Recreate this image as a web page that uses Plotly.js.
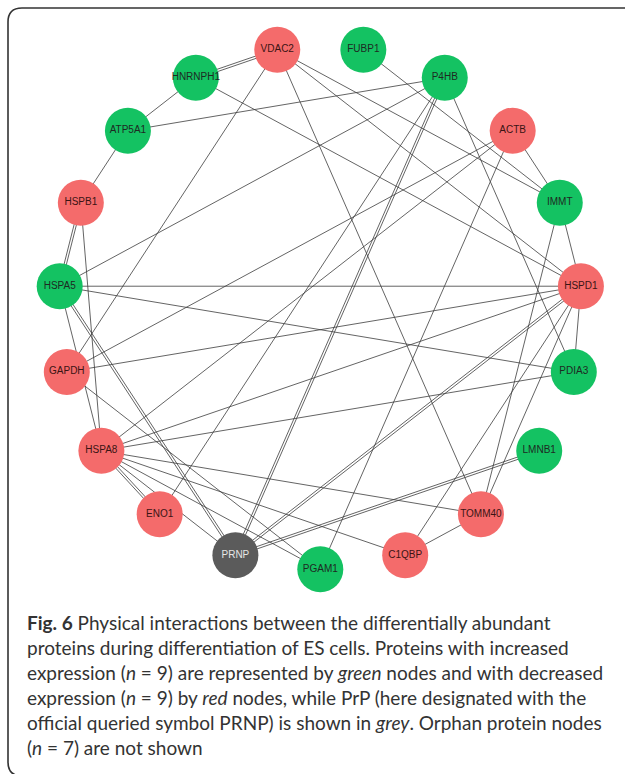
<!DOCTYPE html>
<html>
<head>
<meta charset="utf-8">
<script src="https://cdn.plot.ly/plotly-3.0.1.min.js"></script>
<style>
html,body{margin:0;padding:0;background:#fff;}
#chart{width:625px;height:774px;}
</style>
</head>
<body>
<div id="chart"></div>
<script>
// ---- data ----
// nodes in circular-layout order (starting at the bottom, counter-clockwise)
const nodeNames = ['PGAM1','C1QBP','TOMM40','LMNB1','PDIA3','HSPD1','IMMT','ACTB','P4HB','FUBP1',
                   'VDAC2','HNRNPH1','ATP5A1','HSPB1','HSPA5','GAPDH','HSPA8','ENO1','PRNP'];
const nodeRegulation = ['increased','decreased','decreased','increased','increased','decreased','increased','decreased','increased','increased',
                        'decreased','increased','increased','decreased','increased','decreased','decreased','decreased','query'];
// interactions (source, target, number of interaction records)
const edgeSource = ['HNRNPH1','HNRNPH1','ATP5A1','HNRNPH1','VDAC2','VDAC2','VDAC2','VDAC2','FUBP1','P4HB',
                    'P4HB','P4HB','P4HB','ACTB','ACTB','ACTB','ACTB','IMMT','IMMT','TOMM40',
                    'HSPA5','GAPDH','HSPA8','PRNP','PRNP','PRNP','GAPDH','HSPB1','HSPB1','ATP5A1',
                    'HSPA5','HSPA8','HSPD1','C1QBP','C1QBP','HSPA8','HSPA8','HSPA8','HSPA8','HSPA8','HSPA5'];
const edgeTarget = ['VDAC2','ATP5A1','P4HB','HSPD1','GAPDH','TOMM40','HSPD1','IMMT','IMMT','HSPA5',
                    'PRNP','ENO1','PDIA3','IMMT','GAPDH','HSPA8','PGAM1','TOMM40','HSPD1','HSPD1',
                    'HSPD1','HSPD1','HSPD1','HSPD1','LMNB1','HSPA5','PGAM1','HSPA8','HSPA5','HSPB1',
                    'PDIA3','PDIA3','PDIA3','HSPD1','TOMM40','TOMM40','C1QBP','PGAM1','ENO1','PRNP','HSPA8'];
const edgeRecords = [2,1,1,1,1,1,1,1,1,1,
                     2,1,1,1,1,1,1,1,1,1,
                     1,1,1,2,2,2,1,1,2,1,
                     1,1,1,1,1,1,1,1,2,1,1];
const captionLines = [
  '<b>Fig. 6</b> Physical interactions between the differentially abundant',
  'proteins during differentiation of ES cells. Proteins with increased',
  'expression (<i>n</i> = 9) are represented by <i>green</i> nodes and with decreased',
  'expression (<i>n</i> = 9) by <i>red</i> nodes, while PrP (here designated with the',
  'official queried symbol PRNP) is shown in <i>grey</i>. Orphan protein nodes',
  '(<i>n</i> = 7) are not shown'
];

// ---- styles ----
const W = 625, H = 774;
const CX = 320.3, CY = 307.8, R = 261.5;      // circle layout geometry (px)
const colorOf = {increased:'#14c262', decreased:'#f46b6b', query:'#5b5b5b'};
const labelColorOf = {increased:'#1e2a22', decreased:'#3a1414', query:'#e6e6e6'};

// circular layout (unit circle)
const N = nodeNames.length;
const pos = {};
nodeNames.forEach((n,k)=>{
  const a = -Math.PI/2 + 2*Math.PI*k/N;
  pos[n] = [Math.cos(a), Math.sin(a)];
});

// edges, parallel lines for multiple records
const ex = [], ey = [];
const gap = 2.3 / R;
edgeSource.forEach((s,i)=>{
  const p = pos[s], q = pos[edgeTarget[i]];
  const dx = q[0]-p[0], dy = q[1]-p[1];
  const L = Math.hypot(dx,dy);
  const nx = -dy/L, ny = dx/L;
  const c = edgeRecords[i];
  for(let j=0;j<c;j++){
    const o = (j-(c-1)/2)*gap;
    ex.push(p[0]+nx*o, q[0]+nx*o, null);
    ey.push(p[1]+ny*o, q[1]+ny*o, null);
  }
});

const edgeTrace = {
  type:'scatter', mode:'lines', x:ex, y:ey,
  line:{color:'#3c3c3c', width:0.8}, hoverinfo:'skip', showlegend:false
};
const nodeTrace = {
  type:'scatter', mode:'markers+text',
  x: nodeNames.map(n=>pos[n][0]), y: nodeNames.map(n=>pos[n][1]),
  text: nodeNames, textposition:'middle center',
  textfont:{family:'Liberation Sans, Arial, sans-serif', size:10, color: nodeRegulation.map(g=>labelColorOf[g])},
  marker:{size:46, color: nodeRegulation.map(g=>colorOf[g]), line:{width:0}, opacity:1},
  hoverinfo:'text', showlegend:false
};

const annotations = captionLines.map((t,i)=>({
  xref:'paper', yref:'paper', x: 25/W, y: 1 - (622 + 25*i)/H,
  xanchor:'left', yanchor:'middle', showarrow:false, align:'left',
  text:t, font:{family:'Lato, Open Sans, sans-serif', size:19, color:'#333333'}
}));

// figure frame (rounded box, right side runs off the image)
const px = v=>v/W, py = v=>1-v/H;
const frame = {
  type:'path', xref:'paper', yref:'paper',
  path:`M ${px(640)},${py(8)} L ${px(22)},${py(8)} Q ${px(8)},${py(8)} ${px(8)},${py(22)} L ${px(8)},${py(762)} Q ${px(8)},${py(776)} ${px(22)},${py(776)} L ${px(640)},${py(776)}`,
  line:{color:'#333333', width:1.6}
};

const layout = {
  width:W, height:H, margin:{l:0,r:0,t:0,b:0},
  paper_bgcolor:'#ffffff', plot_bgcolor:'#ffffff',
  xaxis:{range:[(0-CX)/R,(W-CX)/R], visible:false, fixedrange:true},
  yaxis:{range:[(CY-H)/R,(CY-0)/R], visible:false, fixedrange:true},
  annotations: annotations, shapes:[frame], showlegend:false
};

Plotly.newPlot('chart',[edgeTrace,nodeTrace],layout,{displayModeBar:false, staticPlot:true});
</script>
</body>
</html>
